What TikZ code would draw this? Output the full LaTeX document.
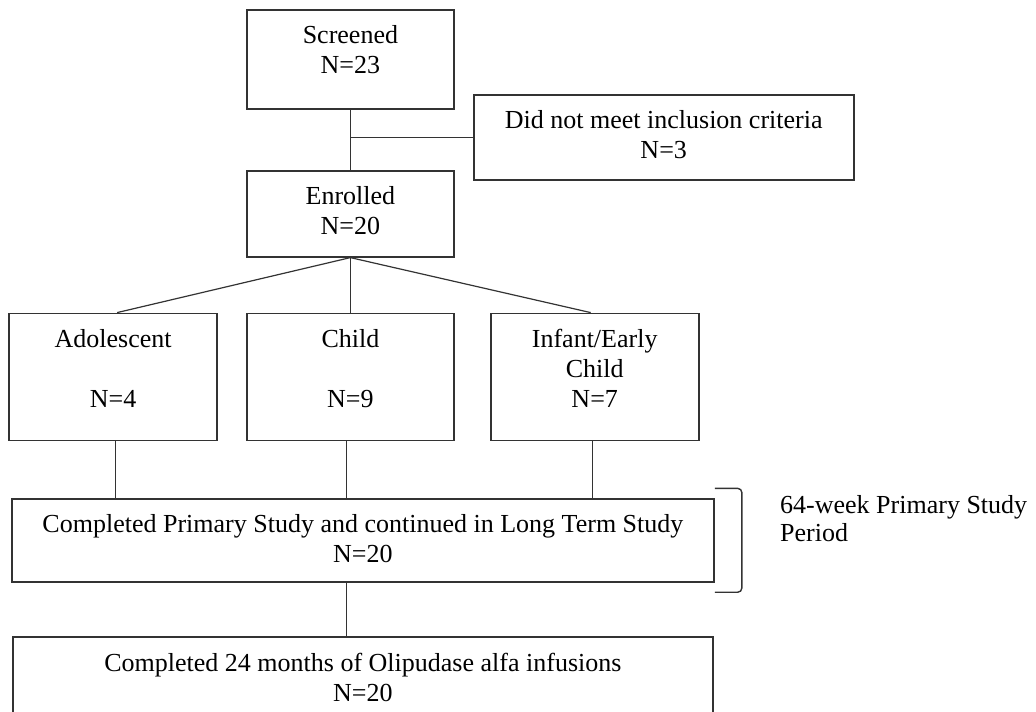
\documentclass[tikz,border=0pt]{standalone}
\usepackage{fontspec}
\setmainfont{Liberation Serif}
\usetikzlibrary{positioning}

\begin{document}
\begin{tikzpicture}[box/.style={rectangle,draw=black!80,line width=0.9pt,inner xsep=0pt,inner ysep=0pt,align=center,font=\fontsize{13pt}{15pt}\selectfont,text height=32pt,text depth=11pt},
  link/.style={draw=black!80,line width=0.6pt},
  note/.style={align=left,inner sep=0pt,font=\fontsize{13pt}{14pt}\selectfont}]
            \useasboundingbox (0,0) rectangle (518pt,-355.5pt);

            \node[box, minimum width=103.5pt, text depth=17.5pt, anchor=north west] (1) at (123pt,-4.5pt) {Screened\\N=23};
            \node[box, minimum width=190pt, text depth=10.5pt, anchor=north west] (2) at ([xshift=9pt, yshift=8pt]1.south east) {Did not meet inclusion criteria\\N=3};
            \node[box, minimum width=103.5pt] (3) [below=30pt of 1] {Enrolled\\N=20};

            \node[box, minimum width=103.5pt, text height=47pt, text depth=16.5pt] (5) [below=27.5pt of 3] {Child\\[15pt]N=9};
            \node[box, minimum width=104pt, text height=47pt, text depth=16.5pt] (4) [left=14pt of 5] {Adolescent\\[15pt]N=4};
            \node[box, minimum width=104pt, text height=47pt, text depth=16.5pt] (6) [right=17.5pt of 5] {Infant/Early\\Child\\N=7};

            \node[box, minimum width=351pt, text height=31.5pt, text depth=10pt] (7) [below=28.5pt of 5, xshift=6.25pt] {Completed Primary Study and continued in Long Term Study\\N=20};
            \node[box, minimum width=350pt, text depth=12pt] (8) [below=26.5pt of 7] {Completed 24 months of Olipudase alfa infusions\\N=20};

            \node[note, anchor=base west] (9) at ([xshift=32.5pt, yshift=-21.5pt]7.north east) {64-week Primary Study\\Period};

            % screening
            \draw[link] (1) -- (3);
            \draw[link] (2.west) -- (2.west -| 1.south);
            % age groups
            \draw[link] (3.south) -- ([xshift=2pt]4.north);
            \draw[link] (3.south) -- (5.north);
            \draw[link] (3.south) -- ([xshift=-2pt]6.north);
            \draw[link] ([xshift=1pt]4.south) -- ([xshift=1pt]4.south |- 7.north);
            \draw[link] ([xshift=-2pt]5.south) -- ([xshift=-2pt]5.south |- 7.north);
            \draw[link] ([xshift=-1pt]6.south) -- ([xshift=-1pt]6.south |- 7.north);
            \draw[link] ([xshift=-2pt]5.south |- 7.south) -- ([xshift=-2pt]5.south |- 8.north);
            % study period bracket
            \draw[link, line width=0.7pt, rounded corners=2pt] ([yshift=5pt]7.north east) -- ++(13.5pt,0) |- ([yshift=-4.5pt]7.south east);
        \end{tikzpicture}
\end{document}
